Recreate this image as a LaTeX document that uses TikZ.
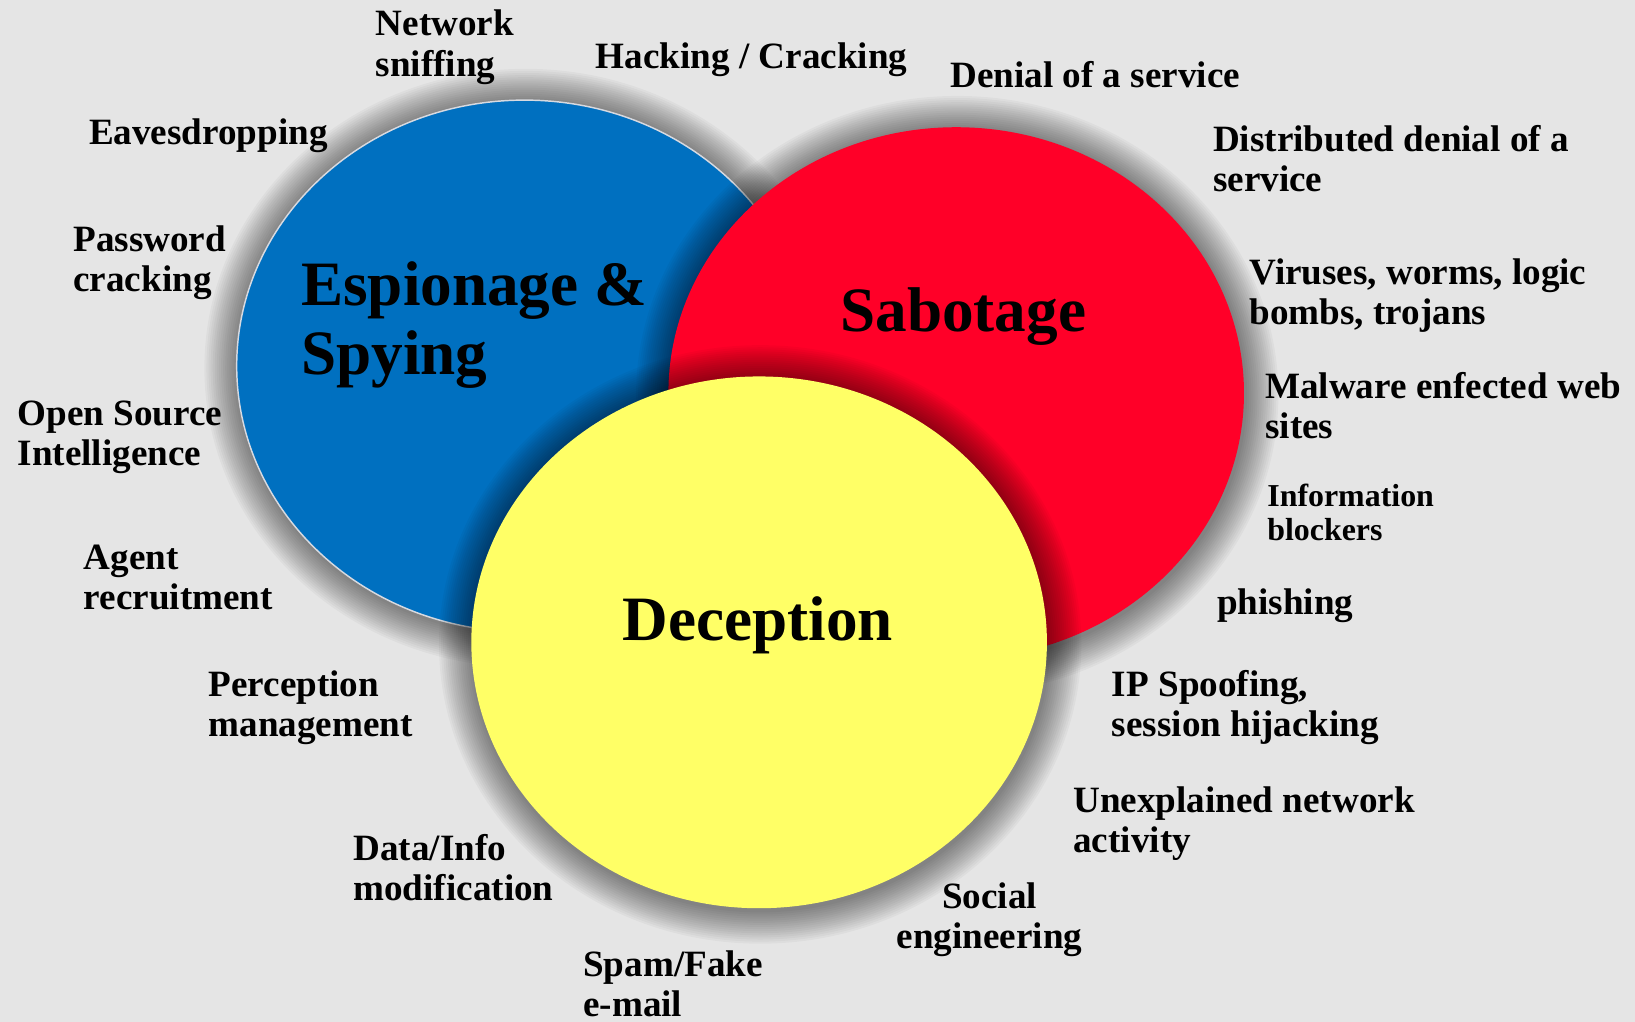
\documentclass[tikz,border=0pt]{standalone}
\usepackage{fontspec}
\setmainfont{Liberation Serif}
\usetikzlibrary{shapes.geometric}
\definecolor{espblue}{RGB}{0,112,192}
\definecolor{sabred}{RGB}{255,0,40}
\definecolor{decyel}{RGB}{255,255,102}
\definecolor{bggray}{RGB}{229,229,229}
\definecolor{rimgray}{RGB}{215,218,225}
\newcommand\twoln[2]{\vtop{\hbox{#1}\hbox{#2}}}
\newcommand\twolnc[2]{\vtop{\halign{\hfil##\hfil\cr#1\cr#2\cr}}}
\newcommand\vennshadow[2]{%
  \foreach \k in {0,...,15}{%
    \fill[black, fill opacity=0.033] ({#1+1},{#2+2}) ellipse [x radius={308-2*\k}, y radius={287-2*\k}];}}
\tikzset{
  venn/.style={ellipse, minimum width=276pt, minimum height=255pt, inner sep=0pt, outer sep=0pt},
  lab/.style={anchor=base west, inner sep=0pt, font=\fontsize{17.8}{19.3}\selectfont\bfseries},
  labc/.style={lab, anchor=base},
  labsmall/.style={lab, font=\fontsize{15.3}{16}\selectfont\bfseries},
  big/.style={anchor=base west, inner sep=0pt, font=\fontsize{30.3}{33.5}\selectfont\bfseries}
}
\begin{document}
\begin{tikzpicture}[x=0.5pt, y=-0.5pt]
\path[use as bounding box, fill=bggray] (0,0) rectangle (1568,980);
% circles with soft shadows
\vennshadow{503}{351}
\node[venn, fill=espblue, draw=rimgray, line width=0.7pt] (esp) at (503,351) {};
\vennshadow{917}{377}
\node[venn, fill=sabred] (sab) at (917,377) {};
\vennshadow{728}{616}
\node[venn, fill=decyel] (dec) at (728,616) {};
% big labels
\node[big] (espl) at (288.4,292.5) {\twoln{Espionage \&}{Spying}};
\node[big] (sabl) at (805.6,317.5) {Sabotage};
\node[big] (decl) at (596.7,614.7) {Deception};
% small labels
\node[lab] (net) at (360,34.5) {\twoln{Network}{sniffing}};
\node[lab] (hack) at (571,65.5) {Hacking / Cracking};
\node[lab] (dos) at (911,83.7) {Denial of a service};
\node[lab] (ddos) at (1163,145.5) {\twoln{Distributed denial of a}{service}};
\node[lab] (vir) at (1198,273) {\twoln{Viruses, worms, logic}{bombs, trojans}};
\node[lab] (mal) at (1213,382) {\twoln{Malware enfected web}{sites}};
\node[labsmall] (info) at (1215,486) {\twoln{Information}{blockers}};
\node[lab] (phish) at (1167,589) {phishing};
\node[lab] (ip) at (1066,668) {\twoln{IP Spoofing,}{session hijacking}};
\node[lab] (unex) at (1029,779.4) {\twoln{Unexplained network}{activity}};
\node[labc] (soc) at (949,871) {\twolnc{Social}{engineering}};
\node[lab] (spam) at (559,936) {\twoln{Spam/Fake}{e-mail}};
\node[lab] (data) at (338.6,825) {\twoln{Data/Info}{modification}};
\node[lab] (perc) at (199.7,667.5) {\twoln{Perception}{management}};
\node[lab] (agent) at (80,546) {\twoln{Agent}{recruitment}};
\node[lab] (osint) at (16.5,407.6) {\twoln{Open Source}{Intelligence}};
\node[lab] (pass) at (70,241.4) {\twoln{Password}{cracking}};
\node[lab] (eaves) at (85,138.4) {Eavesdropping};
\end{tikzpicture}
\end{document}
